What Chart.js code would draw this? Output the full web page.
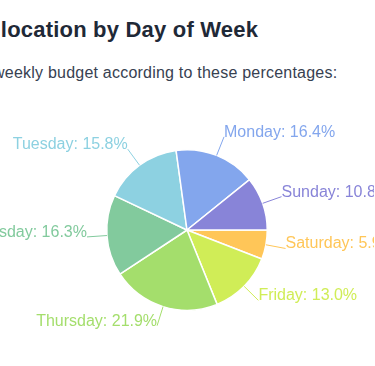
<!DOCTYPE html>
<html>
<head>
<meta charset="utf-8">
<script src="https://cdn.jsdelivr.net/npm/chart.js@4"></script>
<style>
    html, body { margin: 0; padding: 0; background: #fff; overflow: hidden; width: 375px; height: 366px; }
    body { font-family: "Liberation Sans", Arial, sans-serif; position: relative; }
    #titulo { position: absolute; left: -104px; top: 17px; margin: 0; font-size: 22px; letter-spacing: 0.2px; font-weight: bold; color: #1f2937; white-space: nowrap; }
    #sub { position: absolute; left: -107px; top: 64px; margin: 0; font-size: 16px; letter-spacing: 0.22px; color: #374151; white-space: nowrap; }
    #caja { position: absolute; left: 0; top: 119px; width: 374px; height: 222px; }
</style>
</head>
<body>
<h2 id="titulo">Budget Allocation by Day of Week</h2>
<p id="sub">Allocate your weekly budget according to these percentages:</p>
<div id="caja"><canvas id="grafica"></canvas></div>
<script>
// datos (orden de la fuente)
const dias = ['Sunday', 'Monday', 'Tuesday', 'Wednesday', 'Thursday', 'Friday', 'Saturday'];
const porcentajes = [10.8, 16.4, 15.8, 16.3, 21.9, 13.0, 5.9];
const colores = ['#8884d8', '#83a6ed', '#8dd1e1', '#82ca9d', '#a4de6c', '#d0ed57', '#ffc658'];

// la fuente gira al reves, asi que se invierte el orden
const etiquetas = dias.slice().reverse();
const valores = porcentajes.slice().reverse();
const fondos = colores.slice().reverse();

const etiquetasFuera = {
    id: 'etiquetasFuera',
    afterDatasetsDraw(chart) {
        const ctx = chart.ctx;
        const meta = chart.getDatasetMeta(0);
        ctx.save();
        ctx.font = '16px "Liberation Sans", Arial, sans-serif';
        meta.data.forEach((arco, i) => {
            const p = arco.getProps(['x', 'y', 'startAngle', 'endAngle', 'outerRadius'], true);
            const medio = (p.startAngle + p.endAngle) / 2;
            const x1 = p.x + Math.cos(medio) * p.outerRadius;
            const y1 = p.y + Math.sin(medio) * p.outerRadius;
            const x2 = p.x + Math.cos(medio) * (p.outerRadius + 20);
            const y2 = p.y + Math.sin(medio) * (p.outerRadius + 20);
            ctx.strokeStyle = fondos[i];
            ctx.lineWidth = 1;
            ctx.beginPath();
            ctx.moveTo(x1, y1);
            ctx.lineTo(x2, y2);
            ctx.stroke();
            ctx.fillStyle = fondos[i];
            ctx.textBaseline = 'alphabetic';
            ctx.textAlign = x2 > p.x ? 'left' : 'right';
            ctx.fillText(etiquetas[i] + ': ' + valores[i].toFixed(1) + '%', x2, y2);
        });
        ctx.restore();
    }
};

new Chart(document.getElementById('grafica').getContext('2d'), {
    type: 'pie',
    data: {
        labels: etiquetas,
        datasets: [{
            data: valores,
            backgroundColor: fondos,
            borderColor: '#ffffff',
            borderWidth: 1.5
        }]
    },
    options: {
        responsive: true,
        maintainAspectRatio: false,
        animation: false,
        rotation: 90,
        layout: { padding: 30 },
        plugins: {
            legend: { display: false },
            tooltip: { enabled: false }
        }
    },
    plugins: [etiquetasFuera]
});
</script>
</body>
</html>
